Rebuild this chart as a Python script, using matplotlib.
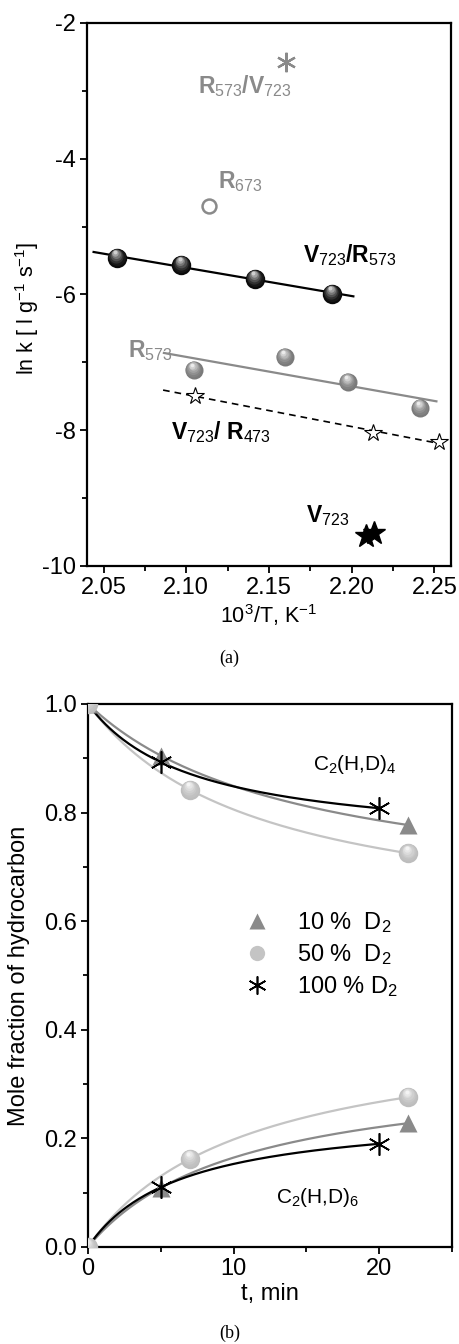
import numpy as np
import matplotlib.pyplot as plt
from matplotlib.lines import Line2D
from matplotlib.colors import to_rgb
from matplotlib.transforms import offset_copy

plt.rcParams['font.family'] = ['Liberation Sans', 'DejaVu Sans']
plt.rcParams['mathtext.fontset'] = 'custom'
plt.rcParams['mathtext.rm'] = 'Liberation Sans'
plt.rcParams['mathtext.it'] = 'Liberation Sans:italic'
plt.rcParams['mathtext.bf'] = 'Liberation Sans:bold'
plt.rcParams['mathtext.default'] = 'regular'
plt.rcParams['axes.unicode_minus'] = False

# ---- panel (a) data: ln k vs 1000/T
v723_r573_x = [2.058, 2.097, 2.1415, 2.188]
v723_r573_y = [-5.46, -5.56, -5.77, -5.99]
r573_x = [2.1045, 2.1594, 2.1976, 2.2412]
r573_y = [-7.11, -6.92, -7.29, -7.67]
v723_r473_x = [2.1052, 2.2127, 2.2527]
v723_r473_y = [-7.49, -8.04, -8.17]
r673_x, r673_y = [2.114], [-4.70]
r573_v723_x, r573_v723_y = [2.160], [-2.57]
v723_x = [2.2085, 2.2133]
v723_y = [-9.56, -9.51]
# x span of the regression lines
fit_span_black = [2.044, 2.201]
fit_span_gray = [2.0865, 2.2512]
fit_span_dash = [2.086, 2.251]

# ---- panel (b) data: mole fraction vs time
t10 = [0, 5, 22]
up10 = [1.0, 0.905, 0.777]
lo10 = [0.0, 0.109, 0.228]
t50 = [0, 7, 22]
up50 = [1.0, 0.842, 0.725]
lo50 = [0.0, 0.162, 0.276]
t100 = [0, 5, 20]
up100 = [1.0, 0.893, 0.808]
lo100 = [0.0, 0.11, 0.19]

GRAY = '#8a8a8a'
LIGHT = '#c4c4c4'

fig = plt.figure(figsize=(4.59, 13.44), dpi=100)
ax1 = fig.add_axes([0.1895, 0.5789, 0.793, 0.404])
ax2 = fig.add_axes([0.1917, 0.0722, 0.793, 0.404])


def spheres(ax, x, y, color, hl, ms):
    # shaded ball: base disc plus lighter discs shifted upwards
    c0 = np.array(to_rgb(color))
    c1 = np.array(to_rgb(hl))
    ax.plot(x, y, 'o', color=color, ms=ms, mec='none', zorder=4)
    n = 6
    for i in range(1, n + 1):
        f = i / n
        size = ms * (1 - 0.8 * f)
        tr = offset_copy(ax.transData, fig=fig, x=-0.08 * ms * f, y=0.28 * ms * f, units='points')
        ax.plot(x, y, 'o', color=c0 + (c1 - c0) * f ** 1.5, ms=size, mec='none',
                transform=tr, zorder=4 + 0.01 * i)


def linfit(x, y, span):
    p = np.polyfit(x, y, 1)
    xs = np.array(span)
    return xs, np.polyval(p, xs)


# panel (a)
xs, ys = linfit(v723_r573_x, v723_r573_y, fit_span_black)
ax1.plot(xs, ys, color='black', lw=1.6, zorder=3)
xs, ys = linfit(r573_x, r573_y, fit_span_gray)
ax1.plot(xs, ys, color=GRAY, lw=1.6, zorder=3)
xs, ys = linfit(v723_r473_x, v723_r473_y, fit_span_dash)
ax1.plot(xs, ys, color='black', lw=1.2, ls=(0, (4, 3)), zorder=3)

spheres(ax1, v723_r573_x, v723_r573_y, '#0a0a0a', '#d0d0d0', 14)
spheres(ax1, r573_x, r573_y, '#7a7a7a', '#ececec', 13)
ax1.plot(v723_r473_x, v723_r473_y, '*', mfc='white', mec='black', mew=0.8, ms=13, zorder=4)
ax1.plot(r673_x, r673_y, 'o', mfc='white', mec=GRAY, mew=1.8, ms=10, zorder=4)
ax1.plot(r573_v723_x, r573_v723_y, marker=(6, 2, 0), color=GRAY, mew=1.6, ms=14, ls='none', zorder=4)
ax1.plot(v723_x, v723_y, '*', color='black', ms=17, zorder=4)

fs_lab = 16.5
ax1.text(2.107, -3.03, r'$\mathbf{R}_{573}\mathbf{/V}_{723}$', color=GRAY, fontsize=fs_lab, va='baseline')
ax1.text(2.119, -4.43, r'$\mathbf{R}_{673}$', color=GRAY, fontsize=fs_lab, va='baseline')
ax1.text(2.1706, -5.53, r'$\mathbf{V}_{723}\mathbf{/R}_{573}$', color='black', fontsize=fs_lab, va='baseline')
ax1.text(2.065, -6.92, r'$\mathbf{R}_{573}$', color=GRAY, fontsize=fs_lab, va='baseline')
ax1.text(2.0906, -8.13, r'$\mathbf{V}_{723}\mathbf{/\ R}_{473}$', color='black', fontsize=fs_lab, va='baseline')
ax1.text(2.1724, -9.36, r'$\mathbf{V}_{723}$', color='black', fontsize=fs_lab, va='baseline')

ax1.set_xlim(2.04, 2.26)
ax1.set_ylim(-10, -2)
ax1.set_xticks([2.05, 2.10, 2.15, 2.20, 2.25])
ax1.set_xticks(np.arange(2.075, 2.26, 0.05), minor=True)
ax1.set_yticks([-10, -8, -6, -4, -2])
ax1.set_yticks([-9, -7, -5, -3], minor=True)
ax1.set_xticklabels(['2.05', '2.10', '2.15', '2.20', '2.25'])
ax1.set_xlabel(r'10$^3$/T, K$^{-1}$', fontsize=15.5, labelpad=2)
ax1.set_ylabel(r'ln k [ l g$^{-1}$ s$^{-1}$]', fontsize=15.5)
ax1.yaxis.set_label_coords(-0.125, 0.475)
fig.text(0.5, 1 - 658 / 1344, '(a)', family='Liberation Serif', fontsize=13, ha='center', va='center')


# panel (b): hyperbolic fits y = a t / (b + t) (1 - y for the decreasing branch)
def hyper_curve(t, y, upper):
    t = np.array(t, float)
    y = np.array(y, float)
    d = 1 - y if upper else y
    m = t > 0
    slope, icpt = np.polyfit(1 / t[m], 1 / d[m], 1)
    a = 1 / icpt
    b = slope * a
    tt = np.linspace(0, t.max(), 200)
    dd = a * tt / (b + tt)
    return tt, (1 - dd) if upper else dd


for t, up, lo, col in [(t50, up50, lo50, LIGHT), (t10, up10, lo10, GRAY), (t100, up100, lo100, 'black')]:
    for yy, upper in [(up, True), (lo, False)]:
        tt, cc = hyper_curve(t, yy, upper)
        ax2.plot(tt, cc, color=col, lw=1.6, zorder=3)

for yy in [up10, lo10]:
    ax2.plot(t10, yy, '^', color=GRAY, ms=13, mec='none', zorder=4)
for yy in [up50, lo50]:
    spheres(ax2, t50, yy, '#bdbdbd', '#f4f4f4', 14)
for yy in [up100, lo100]:
    ax2.plot(t100[1:], yy[1:], marker=(6, 2, 0), color='black', mew=1.2, ms=16, ls='none', zorder=5)

ax2.text(15.45, 0.878, r'C$_2$(H,D)$_4$', fontsize=15, va='baseline')
ax2.text(12.9, 0.081, r'C$_2$(H,D)$_6$', fontsize=15, va='baseline')

handles = [
    Line2D([], [], marker='^', color=GRAY, mec='none', ms=12, ls='none'),
    Line2D([], [], marker='o', color=LIGHT, mec='none', ms=11, ls='none'),
    Line2D([], [], marker=(6, 2, 0), color='black', mew=1.2, ms=13, ls='none'),
]
ax2.legend(handles, ['10 %  D$_2$', '50 %  D$_2$', '100 % D$_2$'], loc='center left',
           bbox_to_anchor=(0.431, 0.538), frameon=False, fontsize=17, handlelength=1.0,
           handletextpad=1.2, labelspacing=0.3, borderpad=0, borderaxespad=0)

ax2.set_xlim(0, 25)
ax2.set_ylim(0, 1.0)
ax2.set_xticks([0, 10, 20])
ax2.set_xticks([5, 15, 25], minor=True)
ax2.set_yticks([0.0, 0.2, 0.4, 0.6, 0.8, 1.0])
ax2.set_yticks([0.1, 0.3, 0.5, 0.7, 0.9], minor=True)
ax2.set_yticklabels(['0.0', '0.2', '0.4', '0.6', '0.8', '1.0'])
ax2.set_xlabel('t, min', fontsize=17, labelpad=2)
ax2.set_ylabel('Mole fraction of hydrocarbon', fontsize=17)
ax2.yaxis.set_label_coords(-0.16, 0.50)
fig.text(0.5, 1 - 1333 / 1344, '(b)', family='Liberation Serif', fontsize=13, ha='center', va='center')

for ax in (ax1, ax2):
    for s in ax.spines.values():
        s.set_linewidth(1.6)
    ax.tick_params(which='major', direction='out', length=5, width=1.3, labelsize=17, pad=3,
                   top=False, right=False)
    ax.tick_params(which='minor', direction='out', length=3.5, width=1.3, top=False, right=False)

fig.savefig('out.png', dpi=100)
